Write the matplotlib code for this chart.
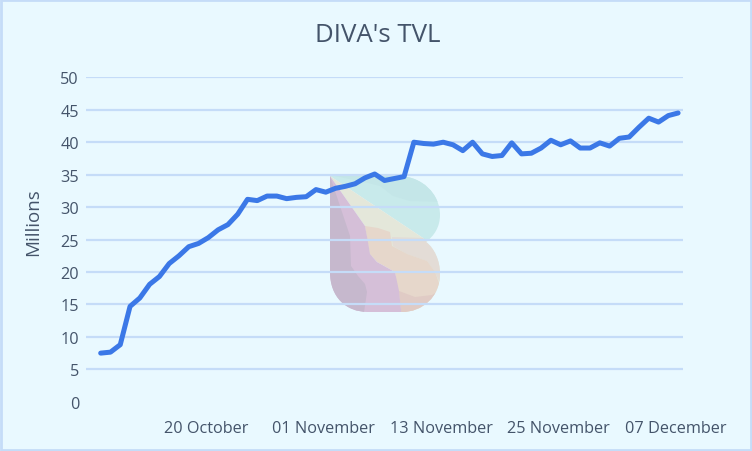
import matplotlib.pyplot as plt
from matplotlib.patches import PathPatch, Polygon, Rectangle
from matplotlib.path import Path
from matplotlib.transforms import ScaledTranslation

plt.rcParams['font.family'] = ['Open Sans', 'DejaVu Sans']

# --- data (first category is empty) ---
tvl = [None, 7.5, 7.65, 8.8, 14.7, 16.0, 18.1, 19.3, 21.3, 22.5, 23.9, 24.4, 25.3, 26.5, 27.3, 28.9,
       31.2, 31.0, 31.7, 31.7, 31.3, 31.5, 31.6, 32.7, 32.3, 32.9, 33.2, 33.6, 34.5, 35.1, 34.1, 34.4,
       34.7, 40.0, 39.8, 39.7, 40.0, 39.6, 38.7, 40.0, 38.2, 37.8, 37.95, 39.9, 38.2, 38.3, 39.1, 40.3,
       39.6, 40.2, 39.1, 39.1, 39.9, 39.4, 40.6, 40.8, 42.3, 43.7, 43.1, 44.1, 44.5]
tick_idx = [12, 24, 36, 48, 60]
tick_labels = ['20 October', '01 November', '13 November', '25 November', '07 December']
y_ticks = [0, 5, 10, 15, 20, 25, 30, 35, 40, 45, 50]

BG = '#E9F9FF'
GRID = '#C5DCF8'
TEXT = '#44546A'
LINE = '#3B78E7'
W, H = 752, 452

fig = plt.figure(figsize=(W / 100, H / 100), dpi=100, facecolor=BG)

# --- watermark logo and frame, in pixel coordinates ---
bg_ax = fig.add_axes([0, 0, 1, 1], zorder=0)
bg_ax.set_xlim(0, W)
bg_ax.set_ylim(H, 0)
bg_ax.axis('off')
bg_ax.add_patch(Rectangle((1, 1), W - 2, H - 2, fc='none', ec=GRID, lw=2))

verts = [(330, 177), (398, 177), (422, 177), (440, 195), (440, 216), (440, 228), (434, 237), (426, 243),
         (434, 249), (440, 261), (440, 275), (440, 298), (422, 313), (402, 313),
         (368, 313), (346, 313), (330, 298), (330, 273), (330, 177)]
codes = [Path.MOVETO, Path.LINETO, Path.CURVE4, Path.CURVE4, Path.CURVE4, Path.CURVE4, Path.CURVE4, Path.CURVE4,
         Path.CURVE4, Path.CURVE4, Path.CURVE4, Path.CURVE4, Path.CURVE4, Path.CURVE4,
         Path.LINETO, Path.CURVE4, Path.CURVE4, Path.CURVE4, Path.CLOSEPOLY]
outline = PathPatch(Path(verts, codes), fc='none', ec='none')
bg_ax.add_patch(outline)

layers = [
    ('#C8EAEB', [(330, 177), (445, 177), (445, 260), (423, 239)]),
    ('#C4E6E8', [(335, 177), (368, 184), (380, 187), (393, 197), (410, 202), (445, 203), (445, 170), (335, 170)]),
    ('#E4E7DA', [(330, 177), (423, 239), (445, 260), (445, 320), (400, 320), (395, 270), (368, 255), (365, 227)]),
    ('#E3DCD6', [(392, 238), (423, 239), (445, 260), (445, 295), (435, 273), (427, 262), (407, 255), (393, 247)]),
    ('#E6D7CB', [(365, 227), (378, 229), (390, 233), (392, 247), (407, 255), (427, 262), (435, 273), (440, 287),
                 (445, 320), (402, 320), (395, 273), (377, 263), (370, 255)]),
    ('#E0CBC5', [(399, 292), (415, 298), (432, 296), (445, 288), (445, 320), (402, 320)]),
    ('#D5BFD8', [(330, 177), (365, 227), (368, 243), (370, 255), (377, 263), (395, 273), (399, 292), (402, 320),
                 (325, 320), (325, 177)]),
    ('#C6B8CD', [(330, 177), (350, 237), (351, 267), (358, 277), (365, 285), (367, 293), (363, 320),
                 (325, 320), (325, 177)]),
]
for color, pts in layers:
    poly = Polygon(pts, closed=True, fc=color, ec='none')
    bg_ax.add_patch(poly)
    poly.set_clip_path(outline)

# --- the chart itself ---
ax = fig.add_axes([86 / W, 1 - 402.8 / H, (683 - 86) / W, (402.8 - 78.3) / H], zorder=1)
ax.patch.set_alpha(0)
x = list(range(len(tvl)))
xs = [i for i, v in zip(x, tvl) if v is not None]
ys = [v for v in tvl if v is not None]
ax.plot(xs, ys, color=LINE, lw=3.6, solid_capstyle='round', solid_joinstyle='round', zorder=3)

ax.set_xlim(-0.5, len(tvl) - 0.5)
ax.set_ylim(0, 50)
ax.set_yticks(y_ticks)
ax.set_xticks(tick_idx)
ax.set_xticklabels(tick_labels)
ax.tick_params(axis='both', length=0, labelsize=11.7, labelcolor=TEXT)
ax.tick_params(axis='x', pad=13)
ax.tick_params(axis='y', pad=5)
ax.grid(axis='y', color=GRID, lw=1.6)
ax.set_axisbelow(True)
for gl in ax.get_ygridlines()[:1]:
    gl.set_visible(False)
for lab in ax.get_xticklabels():
    lab.set_transform(lab.get_transform() + ScaledTranslation(-2 / 100, 0, fig.dpi_scale_trans))
for s in ax.spines.values():
    s.set_visible(False)

fig.text(377.5 / W, 1 - 35 / H, "DIVA's TVL", ha='center', va='center', fontsize=18.6, color=TEXT)
fig.text(33 / W, 1 - 222 / H, 'Millions', ha='center', va='center', rotation=90, fontsize=13.5, color=TEXT)

fig.savefig('out.png', dpi=100, facecolor=BG)
